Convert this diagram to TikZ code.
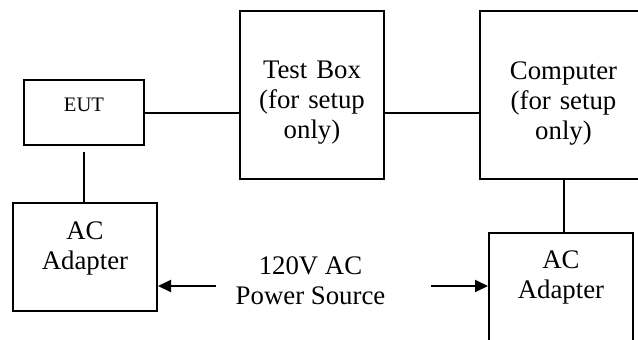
\documentclass[tikz,border=0pt]{standalone}
\usepackage{fontspec}
\setmainfont{Liberation Serif}
\usetikzlibrary{arrows.meta}

\begin{document}
\begin{tikzpicture}[
  x=0.5pt, y=-0.5pt,
  box/.style={draw, line width=1pt, align=center, anchor=north, inner xsep=0pt, inner ysep=0pt,
    font=\fontsize{13.4}{15}\selectfont},
  arrow/.style={->, line width=1pt, >={Triangle[length=6.5pt, width=6pt]}},
  wire/.style={line width=1pt},
]
\useasboundingbox (0,0) rectangle (638,339);

% Top row
\node[box, text width=60pt, text height=15.5pt, text depth=17pt,
      font=\fontsize{10.3}{12}\selectfont] (eut) at (84,79) {EUT};
\node[box, text width=72pt, text height=33.5pt, text depth=50.5pt] (testbox) at (312,10)
  {Test Box\\(for setup\\only)};
\node[box, text width=83.5pt, text height=34pt, text depth=50pt] (computer) at (563.5,10)
  {Computer\\(for setup\\only)};

% Adapters
\node[box, text width=72pt, text height=18pt, text depth=36pt] (acleft) at (85,202)
  {AC\\Adapter};
\node[box, text width=72pt, text height=17.5pt, text depth=37.5pt] (acright) at (561,232)
  {AC\\Adapter};

% Power source
\node[font=\fontsize{13.4}{15}\selectfont, align=center] (power) at (310.5,281) {120V AC\\Power Source};
\coordinate (srcleft) at (216,286);
\coordinate (srcright) at (431,286);

% Connections
\draw[wire] (eut.east) -- (eut.east -| testbox.west);
\draw[wire] (testbox.east |- eut.east) -- (computer.west |- eut.east);
\draw[wire, shorten <=3pt] (eut.south) -- (eut.south |- acleft.north);
\draw[wire] (computer.south) -- (computer.south |- acright.north);
\draw[arrow] (srcleft) -- (srcleft -| acleft.east);
\draw[arrow] (srcright) -- (srcright -| acright.west);

\end{tikzpicture}
\end{document}
